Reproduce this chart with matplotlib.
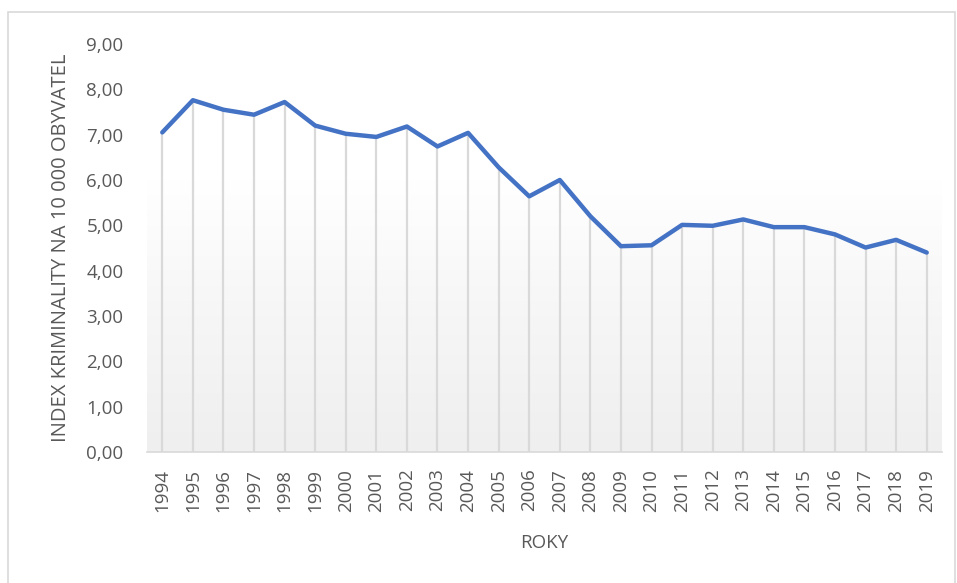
import matplotlib
matplotlib.use("Agg")
import matplotlib.pyplot as plt
import numpy as np
from matplotlib.patches import Rectangle
from matplotlib.colors import LinearSegmentedColormap

years = [str(y) for y in range(1994, 2020)]
values = [7.05, 7.76, 7.55, 7.44, 7.72, 7.20, 7.02, 6.95, 7.18, 6.74, 7.04,
          6.28, 5.64, 6.00, 5.20, 4.54, 4.56, 5.01, 4.99, 5.13, 4.96, 4.96,
          4.80, 4.51, 4.68, 4.40]
yticks = [0, 1, 2, 3, 4, 5, 6, 7, 8, 9]
ytick_labels = ["0,00", "1,00", "2,00", "3,00", "4,00", "5,00", "6,00", "7,00", "8,00", "9,00"]

W, H = 957, 583
fig = plt.figure(figsize=(W / 100, H / 100), dpi=100)
fig.patch.set_facecolor("white")
plt.rcParams["font.family"] = ["Open Sans", "DejaVu Sans"]

# outer chart border
fig.patches.append(Rectangle((8 / W, -0.05), (955 - 8) / W, 1 - 12 / H + 0.05,
                             transform=fig.transFigure, fill=False,
                             edgecolor="#d9d9d9", linewidth=1.2))

ax = fig.add_axes([147 / W, 1 - 452 / H, (942 - 147) / W, (452 - 44) / H])
x = np.arange(len(years))
ax.set_xlim(-0.5, len(years) - 0.5)
ax.set_ylim(0, 9)

# subtle gradient background in plot area
grad = np.linspace(0, 1, 256).reshape(-1, 1)
cmap = LinearSegmentedColormap.from_list("g", ["#efefef", "#f6f6f6", "#ffffff", "#ffffff"])
ax.imshow(grad, extent=(-0.5, len(years) - 0.5, 0, 9), aspect="auto",
          cmap=cmap, origin="lower", zorder=0)

ax.vlines(x, 0, values, colors="#d9d9d9", linewidth=1.6, zorder=1)
ax.plot(x, values, color="#4472C4", linewidth=3.2, solid_joinstyle="round",
        solid_capstyle="round", zorder=3)

for s in ["top", "right", "left"]:
    ax.spines[s].set_visible(False)
ax.spines["bottom"].set_color("#d9d9d9")
ax.spines["bottom"].set_linewidth(1.2)

ax.set_yticks(yticks)
ax.set_yticklabels(ytick_labels, fontsize=13.5, color="#595959")
ax.set_xticks(x)
ax.set_xticklabels(years, rotation=90, fontsize=13.5, color="#595959")
ax.tick_params(axis="both", length=0)
ax.tick_params(axis="y", pad=17)
ax.tick_params(axis="x", pad=12)

ax.set_ylabel("INDEX KRIMINALITY NA 10 000 OBYVATEL", fontsize=14.5, color="#595959")
ax.yaxis.set_label_coords(-0.095, 0.5)
ax.set_xlabel("ROKY", fontsize=13.5, color="#595959")
ax.xaxis.set_label_coords(0.5, -0.2)

fig.savefig("out.png", dpi=100)
